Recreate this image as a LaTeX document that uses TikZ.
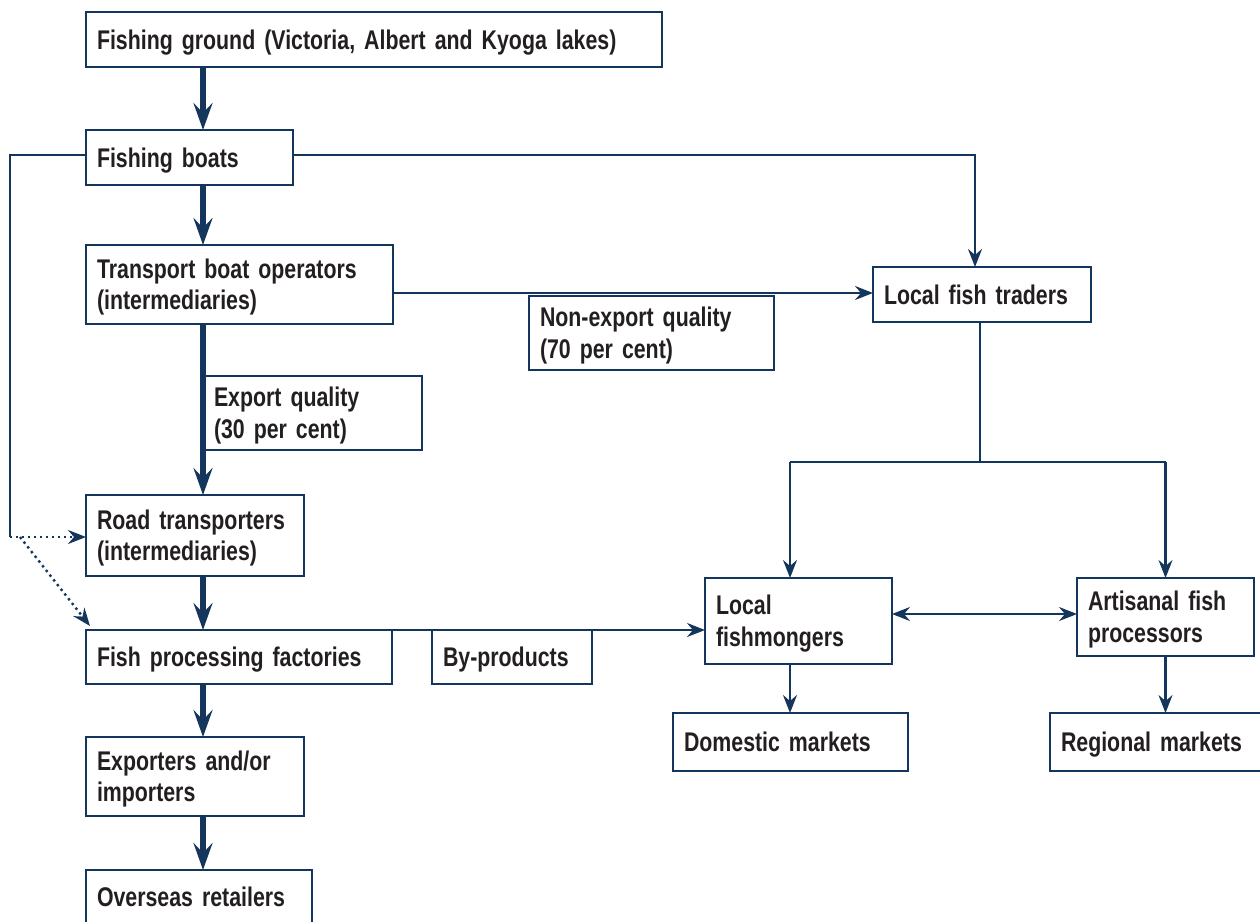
\documentclass[tikz,border=0pt]{standalone}
\usepackage{fontspec}
\setmainfont{Liberation Sans}[FakeStretch=0.79,WordSpace=0.6,UprightFont=* Bold]
\usetikzlibrary{arrows.meta}
\definecolor{navy}{HTML}{15365C}
\definecolor{ink}{HTML}{231F20}
\begin{document}
\begin{tikzpicture}[x=1pt,y=-1pt,
  box/.style={draw=navy, line width=2.6pt, fill=white, anchor=north west, inner xsep=11pt, inner ysep=0pt,
    outer sep=0pt, align=left, text=ink, font=\fontsize{27}{31.5}\selectfont},
  one/.style={text height=19.3pt, text depth=0pt},
  two/.style={text height=19.3pt, text depth=31.5pt},
  thickarrow/.style={draw=navy, line width=5.5pt, -{Stealth[length=27pt,width=19pt,inset=10pt]}},
  thinline/.style={draw=navy, line width=2.2pt},
  thinarrow/.style={thinline, -{Stealth[length=18pt,width=14pt,inset=6pt]}},
  dotarrow/.style={thinline, line width=2.4pt, dash pattern=on 2.4pt off 3.6pt, -{Stealth[length=18pt,width=14pt,inset=6pt]}}
]
\useasboundingbox (0,0) rectangle (1260,921);
\clip (0,0) rectangle (1260,921);

% boxes
\node[box,one,minimum width=576pt,minimum height=55pt,text width=554pt] (fg) at (86,12) {Fishing ground (Victoria, Albert and Kyoga lakes)};
\node[box,one,minimum width=207pt,minimum height=55pt,text width=185pt] (fb) at (86,130) {Fishing boats};
\node[box,two,minimum width=307pt,minimum height=79pt,text width=285pt] (tbo) at (86,245) {Transport boat operators\\(intermediaries)};
\node[box,two,minimum width=219pt,minimum height=74pt,text width=197pt] (eq) at (203,376) {Export quality\\(30 per cent)};
\node[box,two,minimum width=218pt,minimum height=81pt,text width=196pt] (rt) at (86,495) {Road transporters\\(intermediaries)};
\node[box,one,minimum width=306pt,minimum height=54pt,text width=284pt] (fp) at (86,630) {Fish processing factories};
\node[box,one,minimum width=160pt,minimum height=54pt,text width=138pt] (bp) at (432,630) {By-products};
\node[box,two,minimum width=218pt,minimum height=79pt,text width=196pt] (ei) at (86,737) {Exporters and/or\\importers};
\node[box,one,minimum width=226pt,minimum height=53pt,text width=204pt] (osr) at (86,870) {Overseas retailers};
\node[box,one,minimum width=218pt,minimum height=55pt,text width=196pt] (lft) at (873,267) {Local fish traders};
\node[box,two,minimum width=245pt,minimum height=74pt,text width=223pt] (nq) at (529,296) {Non-export quality\\(70 per cent)};
\node[box,two,minimum width=187pt,minimum height=86pt,text width=165pt] (lfm) at (705,578) {Local\\fishmongers};
\node[box,two,minimum width=177pt,minimum height=78pt,text width=155pt] (afp) at (1077,578) {Artisanal fish\\processors};
\node[box,one,minimum width=235pt,minimum height=58pt,text width=213pt] (dm) at (673,713) {Domestic markets};
\node[box,one,minimum width=230pt,minimum height=58pt,text width=208pt] (rm) at (1050,713) {Regional markets};

% helper coordinates
\coordinate (spine) at (203,0);
\coordinate (lftx) at (975,0);
\coordinate (corner) at (10,537);
\coordinate (split) at (980,462);
\coordinate (lfmx) at (790,0);

% main thick chain
\draw[thickarrow] (fg.south -| spine) -- (fb.north -| spine);
\draw[thickarrow] (fb.south -| spine) -- (tbo.north -| spine);
\draw[thickarrow] (tbo.south -| spine) -- (rt.north -| spine);
\draw[thickarrow] (rt.south -| spine) -- (fp.north -| spine);
\draw[thickarrow] (fp.south -| spine) -- (ei.north -| spine);
\draw[thickarrow] (ei.south -| spine) -- (osr.north -| spine);

% fishing boats to local fish traders
\draw[thinarrow] (fb.east |- 0,155) -| (lft.north -| lftx);
% transport boat operators to local fish traders
\draw[thinarrow] (tbo.east |- 0,293) -- (lft.west |- 0,293);
% fishing boats round the left
\draw[thinline] (fb.west |- 0,155) -| (corner);
\draw[dotarrow] (corner) -- (rt.west |- corner);
\draw[dotarrow] ([xshift=10pt]corner) -- ([xshift=4pt,yshift=4pt]fp.north west);
% local fish traders split
\draw[thinline] (lft.south -| split) -- (split);
\draw[thinline] (split -| lfmx) -- (split -| afp.north);
\draw[thinarrow] (split -| lfmx) -- (lfm.north -| lfmx);
\draw[thinarrow] (split -| afp.north) -- (afp.north);
% by-products line
\draw[thinarrow] (fp.north east) -- (lfm.west |- fp.north east);
% double arrow
\draw[thinline, {Stealth[length=18pt,width=14pt,inset=6pt]}-{Stealth[length=18pt,width=14pt,inset=6pt]}] (lfm.east |- 0,614) -- (afp.west |- 0,614);
% to markets
\draw[thinarrow] (lfm.south -| lfmx) -- (dm.north -| lfmx);
\draw[thinarrow] (afp.south) -- (afp.south |- rm.north);
\end{tikzpicture}
\end{document}
